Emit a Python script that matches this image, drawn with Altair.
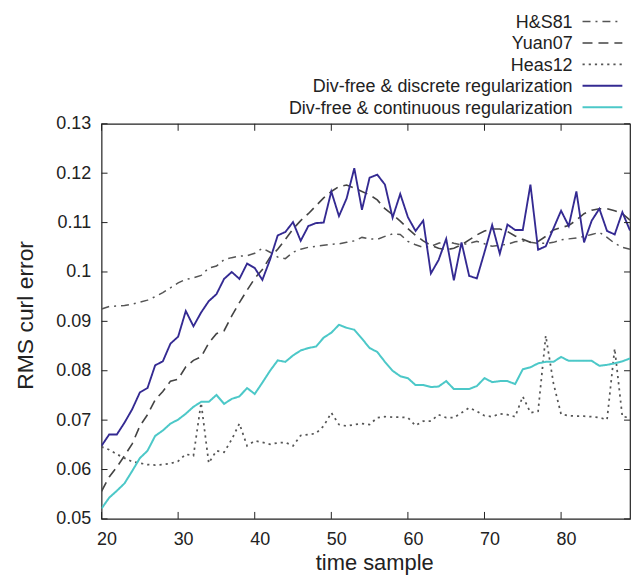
import altair as alt
import pandas as pd

# ---------------- data ----------------
t = list(range(20, 90))

hs81 = [0.0925, 0.0930, 0.0931, 0.0932, 0.0935, 0.0939, 0.0943, 0.0950, 0.0958, 0.0968,
        0.0978, 0.0985, 0.0988, 0.0993, 0.1008, 0.1012, 0.1025, 0.1029, 0.1032, 0.1033,
        0.1038, 0.1048, 0.1040, 0.1030, 0.1027, 0.1040, 0.1046, 0.1050, 0.1052, 0.1054,
        0.1056, 0.1057, 0.1060, 0.1063, 0.1070, 0.1067, 0.1066, 0.1072, 0.1077, 0.1076,
        0.1062, 0.1055, 0.1050, 0.1052, 0.1058, 0.1063, 0.1058, 0.1055, 0.1058, 0.1062,
        0.1057, 0.1052, 0.1054, 0.1056, 0.1061, 0.1063, 0.1060, 0.1058, 0.1058, 0.1060,
        0.1065, 0.1067, 0.1069, 0.1072, 0.1076, 0.1080, 0.1070, 0.1058, 0.1050, 0.1046]

yuan07 = [0.0556, 0.0585, 0.0605, 0.0628, 0.0652, 0.0688, 0.0711, 0.0741, 0.0758, 0.0779,
          0.0783, 0.0808, 0.0821, 0.0828, 0.0856, 0.0875, 0.0881, 0.0911, 0.0938, 0.0963,
          0.0987, 0.1005, 0.1030, 0.1046, 0.1066, 0.1087, 0.1104, 0.1118, 0.1134, 0.1150,
          0.1163, 0.1173, 0.1176, 0.1170, 0.1163, 0.1156, 0.1146, 0.1128, 0.1116, 0.1103,
          0.1088, 0.1074, 0.1063, 0.1054, 0.1048, 0.1045, 0.1048, 0.1055, 0.1065, 0.1075,
          0.1083, 0.1087, 0.1087, 0.1082, 0.1073, 0.1066, 0.1060, 0.1062, 0.1072, 0.1085,
          0.1090, 0.1094, 0.1105, 0.1118, 0.1125, 0.1128, 0.1128, 0.1124, 0.1118, 0.1105]

heas12 = [0.0646, 0.0640, 0.0631, 0.0623, 0.0616, 0.0613, 0.0610, 0.0609, 0.0610, 0.0612,
          0.0617, 0.0631, 0.0628, 0.0735, 0.0613, 0.0638, 0.0635, 0.0661, 0.0693, 0.0648,
          0.0658, 0.0655, 0.0651, 0.0654, 0.0655, 0.0648, 0.0669, 0.0671, 0.0673, 0.0688,
          0.0715, 0.0691, 0.0688, 0.0691, 0.0693, 0.0691, 0.0705, 0.0707, 0.0706, 0.0706,
          0.0705, 0.0689, 0.0698, 0.0698, 0.0711, 0.0705, 0.0705, 0.0715, 0.0725, 0.0718,
          0.0709, 0.0707, 0.0713, 0.0711, 0.0707, 0.0748, 0.0715, 0.0718, 0.0871, 0.0775,
          0.0712, 0.0709, 0.0708, 0.0708, 0.0707, 0.0705, 0.0701, 0.0845, 0.0707, 0.0705]

discrete = [0.0648, 0.0671, 0.0671, 0.0695, 0.0722, 0.0756, 0.0765, 0.0811, 0.0819, 0.0855,
            0.0869, 0.0921, 0.0890, 0.0918, 0.0941, 0.0955, 0.0986, 0.1000, 0.0986, 0.1017,
            0.1008, 0.0984, 0.1025, 0.1074, 0.1081, 0.1101, 0.1063, 0.1093, 0.1099, 0.1100,
            0.1163, 0.1113, 0.1149, 0.1210, 0.1126, 0.1191, 0.1197, 0.1177, 0.1110, 0.1158,
            0.1111, 0.1083, 0.1104, 0.0997, 0.1024, 0.1067, 0.0983, 0.1060, 0.0992, 0.0987,
            0.1040, 0.1095, 0.1037, 0.1096, 0.1085, 0.1085, 0.1177, 0.1045, 0.1052, 0.1088,
            0.1124, 0.1093, 0.1163, 0.1060, 0.1104, 0.1128, 0.1083, 0.1076, 0.1121, 0.1084]

continuous = [0.0521, 0.0543, 0.0557, 0.0572, 0.0597, 0.0623, 0.0638, 0.0668, 0.0679, 0.0693,
              0.0701, 0.0713, 0.0727, 0.0737, 0.0737, 0.0751, 0.0733, 0.0743, 0.0748, 0.0765,
              0.0753, 0.0776, 0.0800, 0.0821, 0.0818, 0.0831, 0.0841, 0.0846, 0.0849, 0.0867,
              0.0877, 0.0893, 0.0887, 0.0883, 0.0865, 0.0846, 0.0838, 0.0818, 0.0800, 0.0789,
              0.0785, 0.0771, 0.0771, 0.0767, 0.0768, 0.0779, 0.0763, 0.0763, 0.0763, 0.0769,
              0.0785, 0.0777, 0.0779, 0.0779, 0.0773, 0.0803, 0.0807, 0.0815, 0.0818, 0.0818,
              0.0828, 0.0820, 0.0820, 0.0820, 0.0820, 0.0810, 0.0812, 0.0815, 0.0819, 0.0825]

names = ["H&S81", "Yuan07", "Heas12",
         "Div-free & discrete regularization",
         "Div-free & continuous regularization"]
series_values = [hs81, yuan07, heas12, discrete, continuous]

x_ticks = [20, 30, 40, 50, 60, 70, 80]
y_ticks = [0.05, 0.06, 0.07, 0.08, 0.09, 0.10, 0.11, 0.12, 0.13]

# ---------------- styling ----------------
colors = ["#555555", "#444444", "#555555", "#342a92", "#4cc8c8"]
dashes = [[8, 5, 2, 5], [10, 6], [2.2, 4], [1, 0], [1, 0]]
widths = [1.5, 2.0, 1.6, 2.0, 2.0]
INK = "#222222"
FONT = "Liberation Sans"

W, H = 531, 397

rows = []
for name, vals in zip(names, series_values):
    for ti, v in zip(t, vals):
        rows.append({"t": ti, "value": v, "series": name})
df = pd.DataFrame(rows)

x_scale = alt.Scale(domain=[20, 89], nice=False, zero=False)
y_scale = alt.Scale(domain=[0.05, 0.13], nice=False, zero=False)

x_axis_def = alt.Axis(
    orient="bottom", values=x_ticks, title="time sample", ticks=False, domain=False,
    grid=False, labelFlush=False, labelPadding=12, labelOffset=5, labelFontSize=18,
    titleFontSize=22, titleFontWeight="normal", titlePadding=4, titleX=274)
x_enc = alt.X("t:Q", scale=x_scale, axis=x_axis_def)

y_axis = alt.Y("value:Q", scale=y_scale, axis=alt.Axis(
    values=y_ticks, format="~g", title="RMS curl error", ticks=False, domain=False,
    grid=False, labelFlush=False, labelPadding=11, labelFontSize=18,
    titleFontSize=23, titleX=-69.5, titleY=192, titleBaseline="alphabetic",
    titleAngle=270, titleFontWeight="normal"))
y_plain = alt.Y("value:Q", scale=y_scale, axis=None)

color_enc = alt.Color("series:N", scale=alt.Scale(domain=names, range=colors), legend=None)
dash_enc = alt.StrokeDash("series:N", scale=alt.Scale(domain=names, range=dashes), legend=None)
width_enc = alt.StrokeWidth("series:N", scale=alt.Scale(domain=names, range=widths), legend=None)

gray_lines = alt.Chart(df).transform_filter(
    alt.FieldOneOfPredicate(field="series", oneOf=names[:3])
).mark_line(clip=True, strokeCap="butt").encode(
    x=x_enc, y=y_axis, color=color_enc, strokeDash=dash_enc, strokeWidth=width_enc,
    detail="series:N")

color_lines = alt.Chart(df).transform_filter(
    alt.FieldOneOfPredicate(field="series", oneOf=names[3:])
).mark_line(clip=True).encode(
    x=x_enc, y=y_plain, color=color_enc, strokeDash=dash_enc, strokeWidth=width_enc,
    detail="series:N")

xt = pd.DataFrame({"t": x_ticks})
yt = pd.DataFrame({"value": y_ticks})

tick_bottom = alt.Chart(xt).mark_rule(color=INK, strokeWidth=1).encode(
    x=x_enc, y=alt.value(H), y2=alt.value(H - 7))
tick_top = alt.Chart(xt).mark_rule(color=INK, strokeWidth=1).encode(
    x=x_enc, y=alt.value(0), y2=alt.value(7))
tick_left = alt.Chart(yt).mark_rule(color=INK, strokeWidth=1).encode(
    y=y_plain, x=alt.value(0), x2=alt.value(6))
tick_right = alt.Chart(yt).mark_rule(color=INK, strokeWidth=1).encode(
    y=y_plain, x=alt.value(W - 6), x2=alt.value(W))

leg = pd.DataFrame({"series": names, "row": list(range(len(names)))})
leg_text = alt.Chart(leg).mark_text(
    align="right", baseline="alphabetic", fontSize=18, font=FONT, color=INK
).encode(
    x=alt.value(473.3),
    y=alt.Y("row:Q", scale=alt.Scale(domain=[0, 4], range=[-96.7, -10]), axis=None),
    text="series:N")
leg_line = alt.Chart(leg).mark_rule(strokeCap="butt").encode(
    x=alt.value(483.3), x2=alt.value(523.3),
    y=alt.Y("row:Q", scale=alt.Scale(domain=[0, 4], range=[-102.7, -16.7]), axis=None),
    color=color_enc, strokeDash=dash_enc, strokeWidth=width_enc)

chart = alt.layer(
    gray_lines, color_lines, tick_bottom, tick_top, tick_left, tick_right, leg_text, leg_line
).resolve_scale(y="independent").properties(
    width=W, height=H,
    padding={"left": 94, "top": 115, "right": 2, "bottom": 56},
    autosize=alt.AutoSizeParams(type="none"),
).configure_view(
    stroke=INK, strokeWidth=1.2
).configure_axis(
    labelColor=INK, titleColor=INK, labelFont=FONT, titleFont=FONT
).configure_text(font=FONT)

chart.save("out.html", embed_options={"renderer": "svg", "actions": False})
